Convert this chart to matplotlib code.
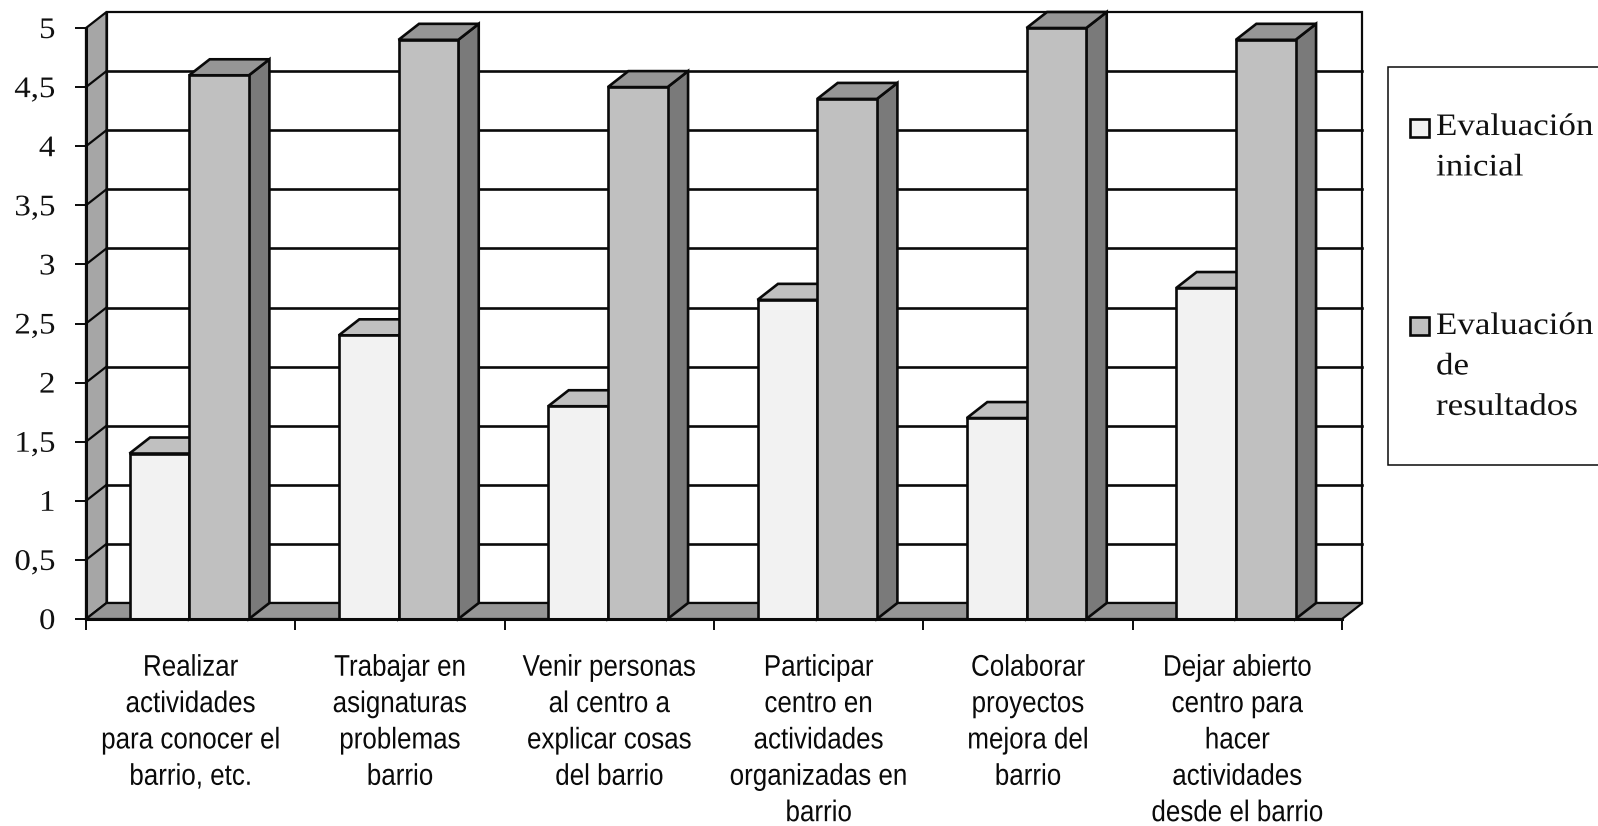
import matplotlib
matplotlib.use("Agg")
import matplotlib.pyplot as plt
from matplotlib.patches import Polygon, Rectangle
from matplotlib.patheffects import AbstractPathEffect
from matplotlib.transforms import Affine2D

categories = [
    "Realizar\nactividades\npara conocer el\nbarrio, etc.",
    "Trabajar en\nasignaturas\nproblemas\nbarrio",
    "Venir personas\nal centro a\nexplicar cosas\ndel barrio",
    "Participar\ncentro en\nactividades\norganizadas en\nbarrio",
    "Colaborar\nproyectos\nmejora del\nbarrio",
    "Dejar abierto\ncentro para\nhacer\nactividades\ndesde el barrio",
]
inicial = [1.4, 2.4, 1.8, 2.7, 1.7, 2.8]
resultados = [4.6, 4.9, 4.5, 4.4, 5.0, 4.9]
y_ticks = [0, 0.5, 1, 1.5, 2, 2.5, 3, 3.5, 4, 4.5, 5]
y_labels = ["0", "0,5", "1", "1,5", "2", "2,5", "3", "3,5", "4", "4,5", "5"]
legend_labels = ["Evaluación\ninicial", "Evaluación\nde\nresultados"]

W, H = 1598, 826
SANS = "Liberation Sans"
SERIF = "Liberation Serif"


class StretchX(AbstractPathEffect):
    """Scale the glyphs horizontally about a fixed x pixel."""

    def __init__(self, cx, sx):
        super().__init__()
        self.cx, self.sx = cx, sx

    def draw_path(self, renderer, gc, tpath, affine, rgbFace=None):
        a = affine + Affine2D().translate(-self.cx, 0).scale(self.sx, 1).translate(self.cx, 0)
        renderer.draw_path(gc, tpath, a, rgbFace)


fig = plt.figure(figsize=(W / 100, H / 100), dpi=100, facecolor="white")
L, R, B, T = 86, 1342, 619, 28
ax = fig.add_axes([L / W, 1 - B / H, (R - L) / W, (B - T) / H])
ax.set_xlim(0, 6)
ax.set_ylim(0, 5)
ax.patch.set_visible(False)
for s in ax.spines.values():
    s.set_visible(False)

dx = 20.5 / ((R - L) / 6)
dy = 16 / ((B - T) / 5)
LW = 1.9
EC = "#0a0a0a"


def poly(pts, fc, z, lw=LW):
    ax.add_patch(Polygon(pts, closed=True, facecolor=fc, edgecolor=EC, linewidth=lw,
                         joinstyle="miter", zorder=z, clip_on=False))


# walls and floor
poly([(dx, dy), (6 + dx, dy), (6 + dx, 5 + dy), (dx, 5 + dy)], "white", 1, 1.6)
poly([(0, 0), (dx, dy), (dx, 5 + dy), (0, 5)], "#A6A6A6", 1, 1.6)
poly([(0, 0), (6, 0), (6 + dx, dy), (dx, dy)], "#969696", 2, 1.6)
for v in y_ticks[1:-1]:
    ax.plot([dx, 6 + dx], [v + dy, v + dy], color=EC, lw=LW, zorder=2, clip_on=False)
    ax.plot([0, dx], [v, v + dy], color=EC, lw=1.6, zorder=2, clip_on=False)
ax.plot([0, 0], [0, 5], color=EC, lw=2.2, zorder=8, clip_on=False)
ax.plot([0, 6], [0, 0], color=EC, lw=2.2, zorder=8, clip_on=False)

# bars
bw = 59.7 / ((R - L) / 6)
off = 43.5 / ((R - L) / 6)
z = 3.0
for i, (a, b) in enumerate(zip(inicial, resultados)):
    for k, (v, front, top, side) in enumerate([(a, "#F2F2F2", "#C0C0C0", "#969696"),
                                               (b, "#C0C0C0", "#969696", "#7A7A7A")]):
        x0 = i + off + k * bw
        x1 = x0 + bw
        poly([(x1, 0), (x1 + dx, dy), (x1 + dx, v + dy), (x1, v)], side, z)
        poly([(x0, v), (x1, v), (x1 + dx, v + dy), (x0 + dx, v + dy)], top, z)
        ax.bar(x0, v, width=bw, align="edge", color=front, edgecolor=EC, linewidth=LW,
               zorder=z + 0.1, clip_on=False)
        z += 0.2

# axes ticks and labels
ax.set_yticks(y_ticks)
ax.set_yticklabels(y_labels, fontfamily=SERIF, fontsize=21.5, color="#111111")
ax.tick_params(axis="y", length=8, width=1.4, pad=14, color=EC)
for t in ax.get_yticklabels():
    t.set_path_effects([StretchX(56, 1.1)])
ax.set_xticks(range(7))
ax.set_xticklabels([])
ax.tick_params(axis="x", which="major", length=8, width=1.4, color=EC)
ax.set_xticks([i + 0.5 for i in range(6)], minor=True)
ax.set_xticklabels(categories, minor=True, fontfamily=SANS, fontsize=21.5,
                   linespacing=1.38, color="#0a0a0a", va="top")
ax.tick_params(axis="x", which="minor", length=0, pad=25)
for i, t in enumerate(ax.get_xticklabels(minor=True)):
    t.set_path_effects([StretchX(L + (i + 0.5) * (R - L) / 6, 0.87)])


# legend (box runs past the right edge of the picture)
def px(x, y):
    return x / W, 1 - y / H


fig.add_artist(Rectangle(px(1388, 465), 300 / W, (465 - 67) / H, transform=fig.transFigure,
                         facecolor="white", edgecolor=EC, linewidth=1.1))
for label, col, y_sq, y_txt in zip(legend_labels, ["#F2F2F2", "#C0C0C0"], [137, 335], [113, 312]):
    fig.add_artist(Rectangle(px(1410, y_sq), 19 / W, 18 / H, transform=fig.transFigure,
                             facecolor=col, edgecolor=EC, linewidth=1.9))
    tx, ty = px(1436, y_txt)
    t = fig.text(tx, ty, label, fontfamily=SERIF, fontsize=22.5, va="top", ha="left",
                 linespacing=1.52, color="#111111")
    t.set_path_effects([StretchX(1436, 1.12)])

fig.savefig("out.png", dpi=100, facecolor="white")
